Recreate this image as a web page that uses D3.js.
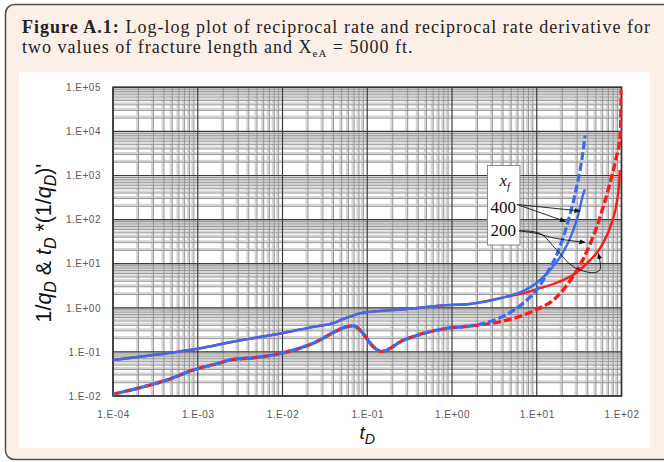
<!DOCTYPE html>
<html><head><meta charset="utf-8">
<script src="https://cdn.jsdelivr.net/npm/d3@7"></script>
<style>html,body{margin:0;padding:0;background:#fff;} svg{display:block;}</style>
</head><body>
<svg id="c" width="664" height="462"></svg>
<script>
// ---------- DATA ----------
const xTicks = [1e-4, 1e-3, 1e-2, 1e-1, 1e0, 1e1, 1e2];
const xTickLabels = ["1.E-04", "1.E-03", "1.E-02", "1.E-01", "1.E+00", "1.E+01", "1.E+02"];
const yTicks = [1e-2, 1e-1, 1e0, 1e1, 1e2, 1e3, 1e4, 1e5];
const yTickLabels = ["1.E-02", "1.E-01", "1.E+00", "1.E+01", "1.E+02", "1.E+03", "1.E+04", "1.E+05"];

// reciprocal-rate derivative, common part (both fracture lengths)
const derivCommonT = [1.0e-4, 2.3e-4, 4.3e-4, 8.9e-4, 1.74e-3, 2.6e-3, 4.2e-3, 0.0102, 0.0251, 0.0398, 0.0575, 0.0684, 0.0891, 0.112, 0.148, 0.186, 0.245, 0.347, 0.871, 1.62];
const derivCommonV = [0.011, 0.0162, 0.0229, 0.0389, 0.055, 0.0676, 0.0724, 0.0955, 0.17, 0.275, 0.372, 0.389, 0.263, 0.145, 0.102, 0.12, 0.17, 0.221, 0.343, 0.385];
// derivative tails
const deriv400T = [4.07, 7.08, 10.2, 13.5, 17.8, 23.4, 29.5, 33.9, 37.2];
const deriv400V = [0.652, 1.32, 2.69, 6.49, 18.6, 91.2, 537, 2190, 8130];
const deriv200T = [4.07, 10.2, 16.2, 25.7, 37.2, 53.7, 70.8, 85.1, 96.8, 99.3];
const deriv200V = [0.501, 0.933, 1.58, 4.57, 15.7, 91.2, 537, 2190, 8910, 87100];

// reciprocal rate 1/qD, common part
const rateCommonT = [1.0e-4, 4.3e-4, 1.07e-3, 2.6e-3, 4.2e-3, 0.0102, 0.0251, 0.0398, 0.0525, 0.063, 0.0813, 0.155, 0.245, 0.871, 1.62];
const rateCommonV = [0.0655, 0.0929, 0.121, 0.170, 0.2, 0.269, 0.38, 0.447, 0.562, 0.631, 0.75, 0.859, 0.912, 1.15, 1.22];
const rate400T = [4.07, 7.08, 10.2, 14.8, 19.5, 25.7, 30.9, 35.3, 37.0];
const rate400V = [1.72, 2.45, 3.8, 7.74, 15.7, 45, 130, 375, 486];
const rate200T = [4.07, 6.46, 10.2, 17.8, 28.2, 40.7, 58.9, 77.6, 88.5, 94.2, 95.5];
const rate200V = [1.72, 2.06, 2.69, 3.8, 5.93, 11, 26.5, 91, 264, 759, 1330];

const legendTitle = "x";
const legendSub = "f";
const legendLabels = ["400", "200"];

// annotation anchor points (data units)
const arrow400From = [5.85, 220];
const arrow400To = [[32.4, 157], [21.8, 90.6]];
const arrow200From = [6.18, 55.7];
const arrow200Knee = [10.9, 48.4];
const arrow200ToC = [37.1, 30.3];
const arrow200CurveT = [17.2, 27, 46.5, 55.7, 53.2];
const arrow200CurveV = [20.5, 8.55, 6.25, 7.28, 17.2];
const legendBoxT = [2.62, 6.34];
const legendBoxV = [1690, 26.5];

// ---------- DRAWING ----------
const svg = d3.select("#c");
const blue = "#3a6cf0", red = "#ff1a1a";

// frame
svg.append("rect").attr("x", 5.5).attr("y", 4.5).attr("width", 700).attr("height", 455)
  .attr("rx", 9).attr("fill", "#fcefe7").attr("stroke", "#4d4d4d").attr("stroke-width", 1.5);
svg.append("rect").attr("x", 19).attr("y", 72).attr("width", 631).attr("height", 376).attr("fill", "#fff");

// title
const title = svg.append("g").attr("font-family", "'Liberation Serif', 'DejaVu Serif', serif").attr("fill", "#222");
const t1 = title.append("text").attr("x", 22).attr("y", 33).attr("font-size", 18);
t1.append("tspan").attr("font-weight", "bold").text("Figure A.1:");
t1.append("tspan").text(" Log-log plot of reciprocal rate and reciprocal rate derivative for");
const t2 = title.append("text").attr("x", 22).attr("y", 53).attr("font-size", 18);
t2.append("tspan").text("two values of fracture length and X");
t2.append("tspan").attr("font-size", "0.6em").attr("dy", 4).text("eA");
t2.append("tspan").attr("dy", -4).text(" = 5000 ft.");
const n1 = t1.text().length;
const w1 = t1.node().getComputedTextLength();
const ls = (629 - w1) / n1;
t1.attr("letter-spacing", ls); t2.attr("letter-spacing", ls);

const P = {l: 113, r: 621.5, t: 87.3, b: 396};
const x = d3.scaleLog().domain([1e-4, 1e2]).range([P.l, P.r]);
const y = d3.scaleLog().domain([1e-2, 1e5]).range([P.b, P.t]);

// grid
const grid = svg.append("g");
const minorX = [], minorY = [];
for (let d = -4; d < 2; d++) for (let k = 2; k <= 9; k++) minorX.push(k * Math.pow(10, d));
for (let d = -2; d < 5; d++) for (let k = 2; k <= 9; k++) minorY.push(k * Math.pow(10, d));
grid.selectAll(".mxl").data(minorX).join("line")
  .attr("x1", d => x(d) - 1.5).attr("x2", d => x(d) - 1.5).attr("y1", P.t).attr("y2", P.b)
  .attr("stroke", "#d6d6d6").attr("stroke-width", 2);
grid.selectAll(".myl").data(minorY).join("line")
  .attr("y1", d => y(d) - 1.5).attr("y2", d => y(d) - 1.5).attr("x1", P.l).attr("x2", P.r)
  .attr("stroke", "#d6d6d6").attr("stroke-width", 2);
grid.selectAll(".mx").data(minorX).join("line")
  .attr("x1", d => x(d)).attr("x2", d => x(d)).attr("y1", P.t).attr("y2", P.b)
  .attr("stroke", "#969696").attr("stroke-width", 1);
grid.selectAll(".my").data(minorY).join("line")
  .attr("y1", d => y(d)).attr("y2", d => y(d)).attr("x1", P.l).attr("x2", P.r)
  .attr("stroke", "#969696").attr("stroke-width", 1);
grid.selectAll(".Mx").data(xTicks).join("line")
  .attr("x1", d => x(d)).attr("x2", d => x(d)).attr("y1", P.t).attr("y2", P.b)
  .attr("stroke", "#3c3c3c").attr("stroke-width", 1.2);
grid.selectAll(".My").data(yTicks).join("line")
  .attr("y1", d => y(d)).attr("y2", d => y(d)).attr("x1", P.l).attr("x2", P.r)
  .attr("stroke", "#3c3c3c").attr("stroke-width", 1.2);
svg.append("rect").attr("x", P.l).attr("y", P.t).attr("width", P.r - P.l).attr("height", P.b - P.t)
  .attr("fill", "none").attr("stroke", "#333").attr("stroke-width", 1.6);

// axes
const axFont = "'Liberation Sans', Arial, sans-serif";
const gx = svg.append("g").attr("transform", `translate(0,${P.b})`)
  .call(d3.axisBottom(x).tickValues(xTicks).tickFormat((d, i) => xTickLabels[i]).tickSize(0).tickPadding(14.5));
const gy = svg.append("g").attr("transform", `translate(${P.l},0)`)
  .call(d3.axisLeft(y).tickValues(yTicks).tickFormat((d, i) => yTickLabels[i]).tickSize(0).tickPadding(12));
[gx, gy].forEach(g => {
  g.select(".domain").remove();
  g.selectAll("text").attr("font-family", axFont).attr("font-size", 10).attr("fill", "#595959").attr("letter-spacing", 0.5);
});

// axis titles
const yt = svg.append("text").attr("transform", "translate(51,243) rotate(-90)")
  .attr("text-anchor", "middle").attr("font-family", axFont).attr("font-size", 17).attr("fill", "#111");
yt.append("tspan").text("1/");
yt.append("tspan").attr("font-style", "italic").text("q");
yt.append("tspan").attr("font-style", "italic").attr("font-size", "0.75em").attr("dy", 5).text("D");
yt.append("tspan").attr("dy", -5).text(" & ");
yt.append("tspan").attr("font-style", "italic").text("t");
yt.append("tspan").attr("font-style", "italic").attr("font-size", "0.75em").attr("dy", 5).text("D");
yt.append("tspan").attr("dy", -5).text(" *(1/");
yt.append("tspan").attr("font-style", "italic").text("q");
yt.append("tspan").attr("font-style", "italic").attr("font-size", "0.75em").attr("dy", 5).text("D");
yt.append("tspan").attr("dy", -5).text(")'");
const ytw = yt.node().getComputedTextLength();
yt.attr("font-size", 17 * 159 / ytw);

const xt = svg.append("text").attr("x", (P.l + P.r) / 2).attr("y", 439).attr("text-anchor", "middle")
  .attr("font-family", axFont).attr("font-size", 19).attr("fill", "#111");
xt.append("tspan").attr("font-style", "italic").text("t");
xt.append("tspan").attr("font-style", "italic").attr("font-size", "0.75em").attr("dy", 5).text("D");

// curves
svg.append("clipPath").attr("id", "clip").append("rect")
  .attr("x", P.l).attr("y", P.t - 2).attr("width", P.r - P.l + 1).attr("height", P.b - P.t + 2);
const cg = svg.append("g").attr("clip-path", "url(#clip)");
const line = d3.line().x(d => x(d[0])).y(d => y(d[1])).curve(d3.curveMonotoneX);
const zip = (a, b) => a.map((v, i) => [v, b[i]]);
const rate200 = zip(rateCommonT.concat(rate200T), rateCommonV.concat(rate200V));
const rate400 = zip(rateCommonT.concat(rate400T), rateCommonV.concat(rate400V));
const der200 = zip(derivCommonT.concat(deriv200T), derivCommonV.concat(deriv200V));
const der400 = zip(derivCommonT.concat(deriv400T), derivCommonV.concat(deriv400V));

cg.append("path").attr("d", line(rate200)).attr("fill", "none").attr("stroke", red).attr("stroke-width", 2.4);
cg.append("path").attr("d", line(der200)).attr("fill", "none").attr("stroke", red).attr("stroke-width", 3.4)
  .attr("stroke-dasharray", "8,3");
cg.append("path").attr("d", line(rate400)).attr("fill", "none").attr("stroke", blue).attr("stroke-width", 2.4);
cg.append("path").attr("d", line(der400)).attr("fill", "none").attr("stroke", blue).attr("stroke-width", 3.2)
  .attr("stroke-dasharray", "8,3").attr("stroke-dashoffset", 5);

// legend box & annotations
const defs = svg.append("defs");
defs.append("marker").attr("id", "ah").attr("viewBox", "0 0 10 10").attr("refX", 9).attr("refY", 5)
  .attr("markerWidth", 7).attr("markerHeight", 7).attr("orient", "auto-start-reverse")
  .append("path").attr("d", "M0,1 L10,5 L0,9 Z").attr("fill", "#111");

const bx0 = x(legendBoxT[0]), bx1 = x(legendBoxT[1]), by0 = y(legendBoxV[0]), by1 = y(legendBoxV[1]);
svg.append("rect").attr("x", bx0).attr("y", by0).attr("width", bx1 - bx0).attr("height", by1 - by0)
  .attr("fill", "#fff").attr("stroke", "#888").attr("stroke-width", 1);
const serif = "'Liberation Serif', 'DejaVu Serif', serif";
const lt = svg.append("text").attr("x", bx0 + 12).attr("y", by0 + 21).attr("font-family", serif)
  .attr("font-size", 17).attr("font-style", "italic").attr("fill", "#111");
lt.append("tspan").text(legendTitle);
lt.append("tspan").attr("font-size", "0.65em").attr("dy", 4).text(legendSub);
legendLabels.forEach((s, i) => {
  svg.append("text").attr("x", bx0 + 3).attr("y", by0 + 47.5 + i * 23.5).attr("font-family", serif)
    .attr("font-size", 17).attr("fill", "#111").text(s);
});

const ann = svg.append("g").attr("fill", "none").attr("stroke", "#111").attr("stroke-width", 0.9);
arrow400To.forEach(p => {
  ann.append("line").attr("x1", x(arrow400From[0])).attr("y1", y(arrow400From[1]))
    .attr("x2", x(p[0])).attr("y2", y(p[1])).attr("marker-end", "url(#ah)");
});
ann.append("path").attr("d", d3.line().x(d => x(d[0])).y(d => y(d[1])).curve(d3.curveBasis)(
  [arrow200From, arrow200Knee, [14.5, 38], arrow200ToC])).attr("marker-end", "url(#ah)");
ann.append("path").attr("d", d3.line().x(d => x(d[0])).y(d => y(d[1])).curve(d3.curveCatmullRom)(
  [arrow200From, arrow200Knee].concat(zip(arrow200CurveT, arrow200CurveV)))).attr("marker-end", "url(#ah)");
</script>
</body></html>
